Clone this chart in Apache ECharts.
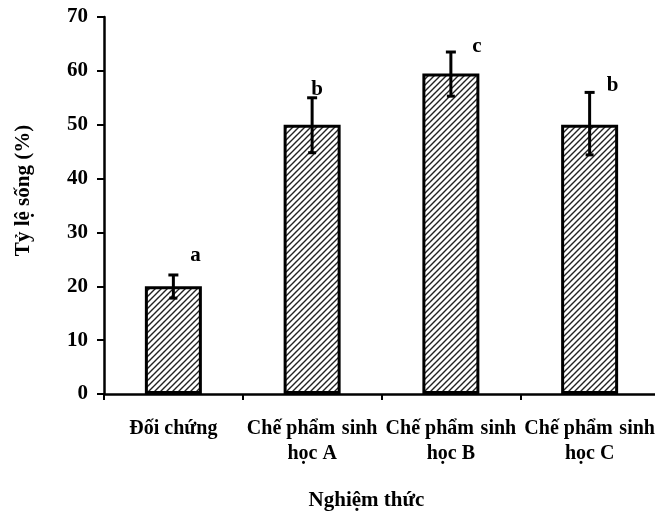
<!DOCTYPE html>
<html><head><meta charset="utf-8">
<script src="https://cdn.jsdelivr.net/npm/echarts@6/dist/echarts.min.js"></script>
<style>html,body{margin:0;padding:0;background:#fff}#c{width:655px;height:515px}</style>
</head><body><div id="c"></div>
<script>
const categories = ['Đối chứng', 'Chế phẩm\u2004sinh\nhọc A', 'Chế phẩm\u2004sinh\nhọc B', 'Chế phẩm\u2004sinh\nhọc C'];
const survival = [20, 50, 59.5, 50];
const errLow = [17.8, 44.8, 55.3, 44.4];
const errHigh = [22.1, 55, 63.5, 56];
const letters = ['a', 'b', 'c', 'b'];
const yTicks = {min: 0, max: 70, interval: 10};

// hatch pattern
const tile = document.createElement('canvas');
const T = 6;
tile.width = T; tile.height = T;
const g = tile.getContext('2d');
g.fillStyle = '#fff'; g.fillRect(0, 0, T, T);
g.strokeStyle = '#222'; g.lineWidth = 1.4;
g.beginPath();
g.moveTo(-1, T + 1); g.lineTo(T + 1, -1);
g.moveTo(-1, 1); g.lineTo(1, -1);
g.moveTo(T - 1, T + 1); g.lineTo(T + 1, T - 1);
g.stroke();

const letterOffsets = [[22, -19], [5, -8], [26, -5], [23, -7]];
const font = '"Liberation Serif", "Times New Roman", serif';
const fs = 21;

const chart = echarts.init(document.getElementById('c'));
chart.setOption({
  animation: false,
  grid: {left: 104, right: -4, top: 17, bottom: 121, containLabel: false, outerBoundsMode: 'none'},
  xAxis: {
    type: 'category', data: categories,
    axisLine: {lineStyle: {color: '#000', width: 2.5}},
    axisTick: {show: true, length: 6, lineStyle: {color: '#000', width: 2}},
    axisLabel: {interval: 0, color: '#000', fontFamily: font, fontWeight: 'bold', fontSize: 20, margin: 22, lineHeight: 25, hideOverlap: false},
    name: 'Nghiệm thức', nameLocation: 'middle', nameGap: 96,
    nameTextStyle: {color: '#000', fontFamily: font, fontWeight: 'bold', fontSize: fs, padding: [0, 30, 0, 0]}
  },
  yAxis: {
    type: 'value', min: yTicks.min, max: yTicks.max, interval: yTicks.interval,
    splitLine: {show: false},
    axisLine: {show: true, lineStyle: {color: '#000', width: 2.5}},
    axisTick: {show: true, length: 7, lineStyle: {color: '#000', width: 2}},
    axisLabel: {color: '#000', fontFamily: font, fontWeight: 'bold', fontSize: fs, margin: 16},
    name: 'Tỷ lệ sống (%)', nameLocation: 'middle', nameGap: 70,
    nameTextStyle: {color: '#000', fontFamily: font, fontWeight: 'bold', fontSize: fs, padding: [0, 0, 0, 30]}
  },
  series: [
    {
      type: 'bar', data: survival, barWidth: 57,
      itemStyle: {color: {image: tile, repeat: 'repeat'}, borderColor: '#000', borderWidth: 3}
    },
    {
      type: 'custom', z: 10,
      data: survival.map((v, i) => [i, errLow[i], errHigh[i]]),
      renderItem: function (params, api) {
        const i = api.value(0);
        const lo = api.coord([i, api.value(1)]);
        const hi = api.coord([i, api.value(2)]);
        const x = hi[0];
        const st = {stroke: '#000', lineWidth: 3};
        const off = letterOffsets[i];
        return {
          type: 'group',
          children: [
            {type: 'line', shape: {x1: x, y1: hi[1], x2: x, y2: lo[1]}, style: st},
            {type: 'line', shape: {x1: x - 5, y1: hi[1], x2: x + 5, y2: hi[1]}, style: st},
            {type: 'line', shape: {x1: x - 4, y1: lo[1], x2: x + 4, y2: lo[1]}, style: st},
            {type: 'text', x: x + off[0], y: hi[1] + off[1],
             style: {text: letters[i], fill: '#000', font: 'bold ' + fs + 'px ' + font, align: 'center', verticalAlign: 'middle'}}
          ]
        };
      }
    }
  ]
});
</script></body></html>
